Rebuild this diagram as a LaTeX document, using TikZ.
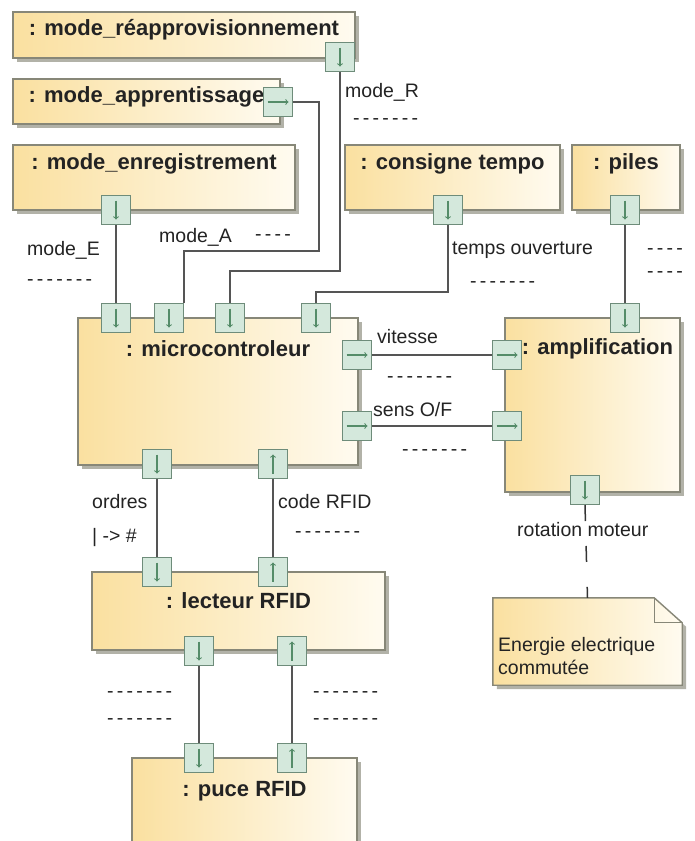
\documentclass[tikz,border=0pt]{standalone}
\usepackage{fontspec}
\setmainfont{Liberation Sans}
\usepackage{tikz}
\usetikzlibrary{arrows,positioning,shadows}
\definecolor{jauneG}{RGB}{250,224,160}
\definecolor{jauneD}{RGB}{255,251,240}
\definecolor{bord}{RGB}{135,135,120}
\definecolor{ombre}{RGB}{178,178,168}
\definecolor{portfond}{RGB}{212,232,220}
\definecolor{portbord}{RGB}{110,140,122}
\definecolor{fleche}{RGB}{85,140,105}
\definecolor{gris}{RGB}{85,85,85}
\definecolor{texte}{RGB}{35,35,35}
\tikzstyle{bloc}=[draw=bord,line width=1.4pt,left color=jauneG,right color=jauneD,drop shadow={shadow xshift=4pt,shadow yshift=-4pt,fill=ombre,opacity=1},inner sep=0pt]
\tikzstyle{titre}=[font=\fontsize{22}{26}\selectfont\bfseries,text=texte,inner sep=0pt]
\tikzstyle{etiq}=[font=\fontsize{19.5}{23}\selectfont,text=texte,inner sep=0pt,anchor=west]
\tikzstyle{port}=[draw=portbord,line width=1pt,fill=portfond,minimum width=29pt,minimum height=29pt,inner sep=0pt]
\tikzstyle{portbas}=[port,path picture={\draw[fleche,line width=1.1pt,->] ([yshift=-5pt]path picture bounding box.north) -- ([yshift=5pt]path picture bounding box.south);}]
\tikzstyle{porthaut}=[port,path picture={\draw[fleche,line width=1.1pt,->] ([yshift=5pt]path picture bounding box.south) -- ([yshift=-5pt]path picture bounding box.north);}]
\tikzstyle{portdroite}=[port,path picture={\draw[fleche,line width=1.1pt,->] ([xshift=4pt]path picture bounding box.west) -- ([xshift=-4pt]path picture bounding box.east);}]
\tikzstyle{lien}=[draw=gris,line width=1.5pt]

\begin{document}
\begin{tikzpicture}[x=1pt,y=-1pt]
\path[use as bounding box,fill=white] (0,0) rectangle (695,841);
\draw (184,35) node [bloc,minimum width=342pt,minimum height=46pt] (bR) {};
\draw (146.5,101.5) node [bloc,minimum width=267pt,minimum height=45pt] (bA) {};
\draw (154,177.5) node [bloc,minimum width=282pt,minimum height=65pt] (bE) {};
\draw (452.5,177.5) node [bloc,minimum width=215pt,minimum height=65pt] (bC) {};
\draw (626,177.5) node [bloc,minimum width=108pt,minimum height=65pt] (bP) {};
\draw (218,391.5) node [bloc,minimum width=280pt,minimum height=147pt] (mc) {};
\draw (592.5,405) node [bloc,minimum width=175pt,minimum height=174pt] (amp) {};
\draw (238.5,611) node [bloc,minimum width=293pt,minimum height=78pt] (lec) {};
\draw (244.5,814) node [bloc,minimum width=225pt,minimum height=112pt] (puce) {};
\draw (587.5,641.5) node [minimum width=189pt,minimum height=87pt,inner sep=0pt] (note) {};
\path[draw=bord,line width=1.4pt,left color=jauneG,right color=jauneD,drop shadow={shadow xshift=4pt,shadow yshift=-4pt,fill=ombre,opacity=1}] (note.north west) -- ([xshift=-28pt]note.north east) -- ([yshift=-25pt]note.north east) -- (note.south east) -- (note.south west) -- cycle;
\draw[bord,line width=1.2pt] ([xshift=-28pt]note.north east) |- ([yshift=-25pt]note.north east);

\node [titre,below=8pt of bR.north] (tR) {: mode\_réapprovisionnement};
\node [titre,below=8pt of bA.north] (tA) {: mode\_apprentissage};
\node [titre,below=9pt of bE.north] (tE) {: mode\_enregistrement};
\node [titre,below=9pt of bC.north] (tC) {: consigne tempo};
\node [titre,below=9pt of bP.north] (tP) {: piles};
\node [titre,below=23pt of mc.north] (tM) {: microcontroleur};
\node [titre,below=21pt of amp.north,xshift=5pt] (tAmp) {: amplification};
\node [titre,below=21pt of lec.north] (tL) {: lecteur RFID};
\node [titre,below=24pt of puce.north] (tPu) {: puce RFID};
\node [etiq,align=left,anchor=north west] (tNote) at (498,637) {Energie electrique\\commutée};

\draw (340,57) node [portbas] (pR) {};
\draw (278,102) node [portdroite] (pA) {};
\draw (116,210) node [portbas] (pE) {};
\draw (448,210) node [portbas] (pC) {};
\draw (625,210) node [portbas] (pP) {};
\draw (116,318) node [portbas] (m1) {};
\draw (169,318) node [portbas] (m2) {};
\draw (230,318) node [portbas] (m3) {};
\draw (316,318) node [portbas] (m4) {};
\draw (357,355) node [portdroite] (mV) {};
\draw (357,426) node [portdroite] (mS) {};
\draw (157,464) node [portbas] (mO) {};
\draw (273,464) node [porthaut] (mCode) {};
\draw (625,318) node [portbas] (aP) {};
\draw (507,355) node [portdroite] (aV) {};
\draw (507,426) node [portdroite] (aS) {};
\draw (585,490) node [portbas] (aRot) {};
\draw (157,572) node [portbas] (lO) {};
\draw (273,572) node [porthaut] (lCode) {};
\draw (199,651) node [portbas] (lB1) {};
\draw (292,651) node [porthaut] (lB2) {};
\draw (199,758) node [portbas] (pu1) {};
\draw (292,758) node [porthaut] (pu2) {};

\draw[lien] (pE) -- (m1);
\draw[lien] (pA.east) -| (319,251) -| (m2.north east);
\draw[lien] (pR.south) |- (230,271) -- (m3.north);
\draw[lien] (pC.south) |- (316,292) -- (m4.north);
\draw[lien] (pP) -- (aP);
\draw[lien] (mV) -- (aV);
\draw[lien] (mS) -- (aS);
\draw[lien] (mO) -- (lO);
\draw[lien] (lCode) -- (mCode);
\draw[lien] (lB1) -- (pu1);
\draw[lien] (pu2) -- (lB2);
\draw[lien,draw=black!80,dash pattern=on 16pt off 25pt] (aRot.south) -- (note.north);

\node [etiq] (lR) at (345,92) {mode\_R};
\node [etiq] (dR) at (353,122) {-\,-\,-\,-\,-\,-\,-};
\node [etiq] (lE) at (27,250) {mode\_E};
\node [etiq] (dE) at (27,283) {-\,-\,-\,-\,-\,-\,-};
\node [etiq] (lA) at (159,237) {mode\_A};
\node [etiq] (dA) at (255,238) {-\,-\,-\,-};
\node [etiq] (lT) at (452,250) {temps ouverture};
\node [etiq] (dT) at (470,285) {-\,-\,-\,-\,-\,-\,-};
\node [etiq] (dP1) at (647,252) {-\,-\,-\,-};
\node [etiq] (dP2) at (647,275) {-\,-\,-\,-};
\node [etiq] (lV) at (377,337) {vitesse};
\node [etiq] (dV) at (387,380) {-\,-\,-\,-\,-\,-\,-};
\node [etiq] (lS) at (373,410) {sens O/F};
\node [etiq] (dS) at (402,453) {-\,-\,-\,-\,-\,-\,-};
\node [etiq] (lO1) at (92,502) {ordres};
\node [etiq] (lO2) at (92,537) {| -> \#};
\node [etiq] (lC) at (278,502) {code RFID};
\node [etiq] (dC) at (295,535) {-\,-\,-\,-\,-\,-\,-};
\node [etiq] (dL1) at (107,695) {-\,-\,-\,-\,-\,-\,-};
\node [etiq] (dL2) at (107,722) {-\,-\,-\,-\,-\,-\,-};
\node [etiq] (dR1) at (313,695) {-\,-\,-\,-\,-\,-\,-};
\node [etiq] (dR2) at (313,722) {-\,-\,-\,-\,-\,-\,-};
\node [etiq] (lRot) at (517,530) {rotation moteur};
\end{tikzpicture}
\end{document}
